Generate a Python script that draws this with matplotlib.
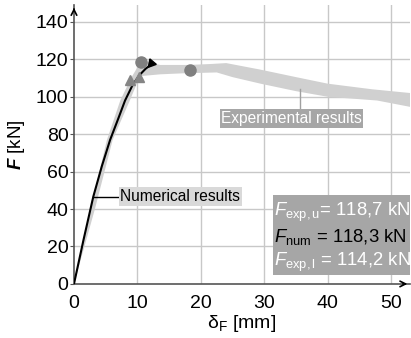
import matplotlib.pyplot as plt
from matplotlib.patches import Rectangle

plt.rcParams['font.family'] = ['Liberation Sans', 'DejaVu Sans']
plt.rcParams['mathtext.fontset'] = 'custom'
plt.rcParams['mathtext.rm'] = 'Liberation Sans'
plt.rcParams['mathtext.it'] = 'Liberation Sans:italic'
plt.rcParams['mathtext.bf'] = 'Liberation Sans:bold'
plt.rcParams['mathtext.bfit'] = 'Liberation Sans:bold:italic'

# experimental band: upper/left edge and lower/right edge (delta mm, F kN)
band_up_x = [0, 2.6, 5.2, 7.3, 9.0, 10.4, 11.0, 13.6, 18.0, 21.5, 24.0, 29.4, 35.0, 40.0, 47.0, 53.0]
band_up_y = [0, 40, 77, 98, 110, 118, 119, 117, 117, 117.5, 118, 114.5, 110.5, 107, 104, 102]
band_lo_x = [0, 3.3, 6.1, 8.8, 10.4, 13.6, 17.0, 22.5, 25.0, 29.4, 35.0, 40.0, 47.8, 53.0]
band_lo_y = [0, 40, 77, 98, 111, 112, 112.5, 113, 110.5, 107, 103, 100, 98, 94.6]

# numerical curve
num_x = [0, 1.5, 3.05, 4.4, 5.7, 7.0, 8.05, 9.2, 10.3, 11.3, 12.2]
num_y = [0, 23.5, 46.7, 63, 77, 88.5, 98, 106, 111.5, 115, 117.3]

# markers
exp_max_x = [10.5, 18.3]
exp_max_y = [118.7, 114.2]
exp_yield_x = [8.8, 10.2]
exp_yield_y = [108.8, 110.6]
num_max_x = [12.2]
num_max_y = [118.3]

xticks = [0, 10, 20, 30, 40, 50]
yticks = [0, 20, 40, 60, 80, 100, 120, 140]

fig = plt.figure(figsize=(4.11, 3.38), dpi=100)
ax = fig.add_axes([0.18, 0.16, 0.818, 0.825])
ax.set_xlim(0, 53)
ax.set_ylim(0, 149)

for x in xticks[1:]:
    ax.axvline(x, color='#c8c8c8', lw=1, zorder=0)
for y in yticks[1:]:
    ax.axhline(y, color='#c8c8c8', lw=1, zorder=0)

ax.fill(band_up_x + band_lo_x[::-1], band_up_y + band_lo_y[::-1],
        color='#d0d0d0', lw=0, zorder=1)
ax.plot(num_x, num_y, color='black', lw=1.5, zorder=3)

ax.plot(exp_yield_x, exp_yield_y, '^', color='#858585', ms=7, zorder=4)
ax.plot(exp_max_x, exp_max_y, 'o', color='#808080', ms=8, zorder=4)
ax.plot(num_max_x, num_max_y, marker=(3, 0, 20), color='black', ms=7, zorder=5, ls='none')

# labels
ax.plot([35.7, 35.7], [93, 104], color='#a0a0a0', lw=1, zorder=2)
ax.text(34.3, 88.4, 'Experimental results', color='white', fontsize=11.2,
        ha='center', va='center', zorder=6,
        bbox=dict(boxstyle='square,pad=0.1', fc='#a6a6a6', ec='none'))
ax.plot([3.05, 7.3], [46.7, 46.7], color='black', lw=1, zorder=2)
ax.text(7.3, 46.7, 'Numerical results', color='black', fontsize=11.2,
        ha='left', va='center', zorder=6,
        bbox=dict(boxstyle='square,pad=0.1', fc='#d9d9d9', ec='none'))

ax.add_patch(Rectangle((31.3, 4.8), 22, 42.7, fc='#a6a6a6', ec='none', zorder=6))
ax.text(31.5, 38.4, r'$F_{\mathrm{exp,u}}$= 118,7 kN', color='white', fontsize=13.3,
        ha='left', va='center', zorder=7)
ax.text(31.5, 25, r'$F_{\mathrm{num}}$ = 118,3 kN', color='black', fontsize=13.3,
        ha='left', va='center', zorder=7)
ax.text(31.5, 11.7, r'$F_{\mathrm{exp,l}}$ = 114,2 kN', color='white', fontsize=13.3,
        ha='left', va='center', zorder=7)

# axes styling
for s in ['top', 'right']:
    ax.spines[s].set_visible(False)
for s in ['left', 'bottom']:
    ax.spines[s].set_color('#555555')
    ax.spines[s].set_linewidth(1.2)
ax.annotate('', xy=(1.0, 0), xytext=(0.97, 0), xycoords='axes fraction',
            arrowprops=dict(arrowstyle='->', color='black', lw=1.2))
ax.annotate('', xy=(0, 1.0), xytext=(0, 0.97), xycoords='axes fraction',
            arrowprops=dict(arrowstyle='->', color='black', lw=1.2))

ax.set_xticks(xticks)
ax.set_yticks(yticks)
ax.tick_params(axis='both', labelsize=14, color='#555555', length=3, pad=1)
ax.tick_params(axis='x', length=0, pad=8)
ax.set_xlabel('δ$_\\mathrm{F}$ [mm]', fontsize=14, labelpad=1)
ax.set_ylabel(r'$\mathbfit{F}$ [kN]', fontsize=13.5, labelpad=6)

fig.savefig('out.png', dpi=100)
